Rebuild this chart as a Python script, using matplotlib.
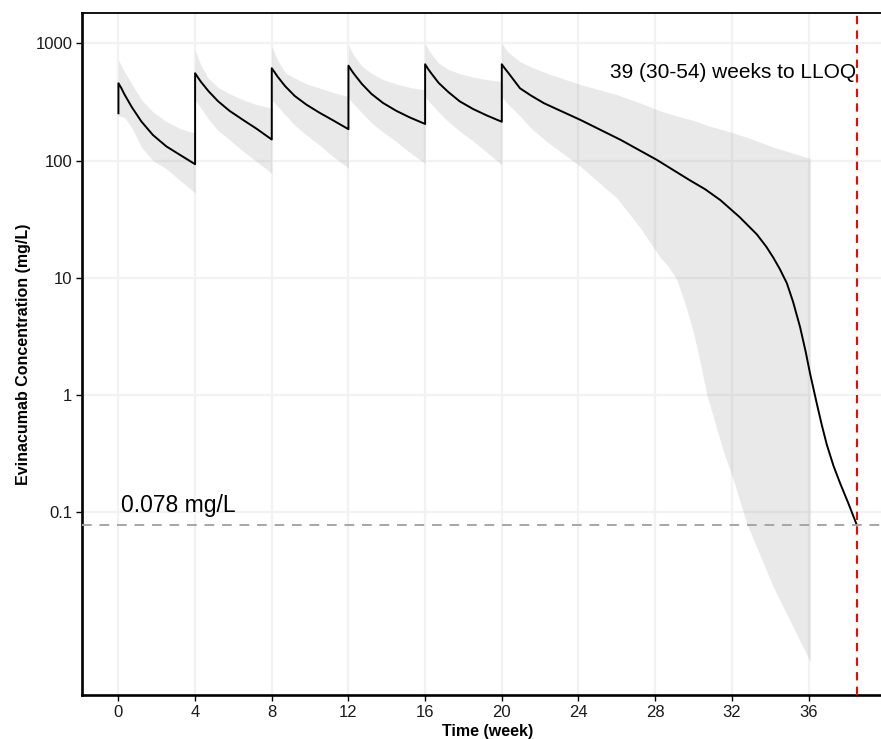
import numpy as np
import matplotlib
matplotlib.use("Agg")
import matplotlib.pyplot as plt

plt.rcParams['font.family'] = ['Liberation Sans', 'DejaVu Sans']

# mean simulated concentration (mg/L) over time (weeks)
time_wk = [0, 0, 0.15, 0.3, 0.7, 1.2, 1.8, 2.5, 3.2, 4,
           4, 4.15, 4.3, 4.7, 5.2, 5.8, 6.5, 7.2, 8,
           8, 8.15, 8.3, 8.7, 9.2, 9.8, 10.5, 11.2, 12,
           12, 12.15, 12.3, 12.7, 13.2, 13.8, 14.5, 15.2, 16,
           16, 16.15, 16.3, 16.7, 17.2, 17.8, 18.5, 19.2, 20,
           20, 20.15, 20.3, 20.95, 21.5, 22.2, 24.1, 26.2, 28.1, 29.8, 30.6,
           31.4, 32.4, 33.3, 33.8, 34.17, 34.5, 34.87, 35.2, 35.56, 35.85,
           36.08, 36.25, 36.43, 36.7, 36.95, 37.3, 37.65, 38.1, 38.52]
conc_mean = [253, 456, 415, 370, 285, 215, 165, 132, 112, 93,
             555, 510, 470, 390, 320, 265, 222, 187, 151,
             612, 565, 520, 430, 355, 300, 255, 220, 185,
             644, 590, 545, 450, 370, 310, 265, 233, 205,
             662, 605, 560, 460, 385, 320, 275, 243, 214,
             662, 612, 570, 413, 360, 308, 222, 150, 101, 68, 57,
             46, 33, 23.5, 18.4, 14.8, 11.9, 9.0, 6.2, 3.8, 2.35,
             1.53, 1.15, 0.85, 0.55, 0.38, 0.25, 0.177, 0.117, 0.078]

# prediction interval band
band_wk = [0, 0.3, 0.7, 1.2, 1.8, 2.5, 3.2, 4,
           4, 4.3, 4.7, 5.2, 5.8, 6.5, 7.2, 8,
           8, 8.3, 8.7, 9.2, 9.8, 10.5, 11.2, 12,
           12, 12.3, 12.7, 13.2, 13.8, 14.5, 15.2, 16,
           16, 16.3, 16.7, 17.2, 17.8, 18.5, 19.2, 20,
           20, 20.3, 20.95, 21.5, 22.35, 24.1, 26.0, 27.2, 28.26, 28.7,
           29.13, 29.55, 30.0, 30.35, 30.7, 31.56, 32.08, 32.78, 34.17, 36.1]
band_upper = [720, 580, 450, 330, 260, 215, 188, 171,
              877, 650, 500, 420, 370, 330, 300, 280,
              936, 720, 560, 505, 450, 415, 380, 351,
              966, 780, 640, 555, 490, 450, 420, 400,
              990, 820, 680, 600, 550, 515, 490, 471,
              1000, 850, 697, 630, 555, 445, 365, 310, 265, 252,
              240, 230, 220, 210, 200, 182, 172, 158, 130, 104]
band_lower = [240, 235, 190, 130, 100, 85, 68, 53,
              328, 280, 225, 180, 150, 120, 98, 78,
              328, 290, 245, 200, 165, 135, 108, 86,
              340, 300, 255, 210, 175, 145, 117, 94.5,
              350, 305, 260, 215, 178, 147, 118, 92,
              350, 305, 240, 190, 145, 89, 48, 27, 15, 12.4,
              9.6, 6.1, 3.4, 1.9, 1.0, 0.33, 0.19, 0.08, 0.023, 0.0053]

lloq = 0.078
weeks_to_lloq = 38.55

x_ticks = [0, 4, 8, 12, 16, 20, 24, 28, 32, 36]
y_ticks = [0.1, 1, 10, 100, 1000]
y_labels = ["0.1", "1", "10", "100", "1000"]

W, H = 881, 739
fig = plt.figure(figsize=(W / 100, H / 100), dpi=100)
ax = fig.add_axes([82 / W, (H - 695) / H, (894 - 82) / W, (695 - 13) / H])

ax.fill_between(band_wk, band_lower, band_upper, color='grey', alpha=0.17,
                linewidth=0, zorder=2)
ax.plot(time_wk, conc_mean, color='black', lw=1.4, zorder=3)
ax.axhline(lloq, color='#a6a6a6', lw=1.4, dashes=(5, 4), zorder=3)
ax.axvline(weeks_to_lloq, color='red', lw=1.5, dashes=(4, 3), zorder=4)

ax.text(0.12, 0.101, "0.078 mg/L", fontsize=16.5, ha='left', va='baseline')
ax.text(weeks_to_lloq - 0.05, 560, "39 (30-54) weeks to LLOQ", fontsize=15,
        ha='right', va='center')

ax.set_yscale('log')
ax.set_xlim(-1.9, 40.46)
ax.set_ylim(0.00277, 1811)
ax.set_xticks(x_ticks)
ax.set_yticks(y_ticks)
ax.set_yticklabels(y_labels)
ax.minorticks_off()

ax.grid(True, color='#f2f2f2', lw=1.6, zorder=0)
ax.set_axisbelow(True)

for side in ['left', 'bottom']:
    ax.spines[side].set_linewidth(1.9)
ax.spines['top'].set_linewidth(1.3)
ax.spines['right'].set_visible(False)
ax.tick_params(axis='both', labelsize=12, length=4, width=1, color='black',
               labelcolor='#1a1a1a', pad=3)

ax.set_ylabel("Evinacumab Concentration (mg/L)", fontsize=11.5,
              fontweight='bold', labelpad=3)
ax.set_xlabel("Time (week)", fontsize=11.5, fontweight='bold', labelpad=3)

fig.savefig("out.png", dpi=100)
